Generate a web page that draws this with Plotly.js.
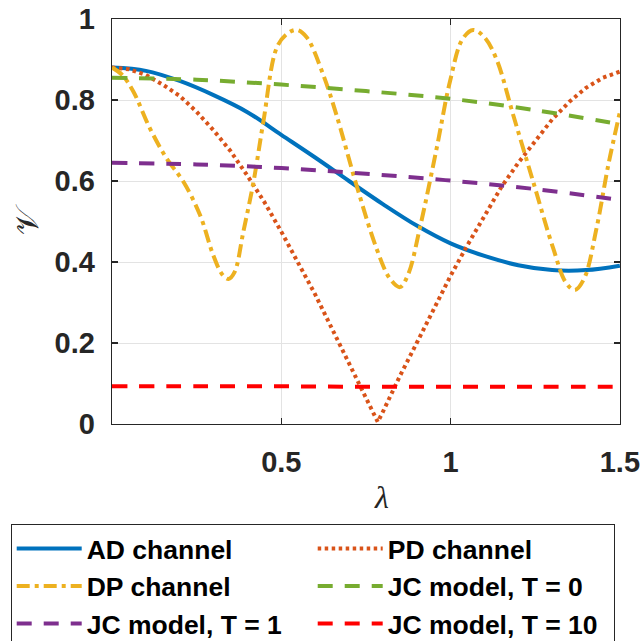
<!DOCTYPE html>
<html>
<head>
<meta charset="utf-8">
<script src="https://cdn.plot.ly/plotly-3.0.1.min.js"></script>
<style>html,body{margin:0;padding:0;background:#fff;}#chart{width:640px;height:641px;}</style>
</head>
<body>
<div id="chart"></div>
<script>
// ---- data ----
const seriesNames = ["AD channel", "PD channel", "DP channel", "JC model, T = 0", "JC model, T = 1", "JC model, T = 10"];

const adX = [0, 0.1, 0.2, 0.3, 0.4, 0.5, 0.6, 0.7, 0.8, 0.9, 1.0, 1.1, 1.2, 1.3, 1.4, 1.5];
const adY = [0.880, 0.872, 0.847, 0.812, 0.770, 0.714, 0.658, 0.600, 0.543, 0.490, 0.446, 0.415, 0.392, 0.380, 0.380, 0.391];

const pdX = [0, 0.05, 0.1, 0.15, 0.2, 0.25, 0.3, 0.35, 0.4, 0.45, 0.5, 0.55, 0.6, 0.65, 0.7, 0.75, 0.785,
             0.8, 0.85, 0.9, 0.95, 1.0, 1.05, 1.1, 1.15, 1.2, 1.25, 1.3, 1.35, 1.4, 1.45, 1.5];
const pdY = [0.880, 0.876, 0.862, 0.838, 0.810, 0.771, 0.725, 0.674, 0.613, 0.548, 0.475, 0.400, 0.320, 0.235, 0.150, 0.062, 0.005,
             0.030, 0.118, 0.200, 0.285, 0.366, 0.442, 0.515, 0.585, 0.645, 0.700, 0.752, 0.795, 0.830, 0.855, 0.870];

const dpX = [0, 0.03, 0.063, 0.112, 0.161, 0.211, 0.26, 0.299, 0.325, 0.344, 0.362, 0.388, 0.418, 0.447, 0.486, 0.515,
             0.545, 0.575, 0.624, 0.663, 0.722, 0.781, 0.82, 0.85, 0.875, 0.909, 0.959, 0.998, 1.035, 1.067, 1.1,
             1.136, 1.185, 1.244, 1.303, 1.34, 1.367, 1.395, 1.431, 1.466, 1.5];
const dpY = [0.880, 0.862, 0.821, 0.730, 0.656, 0.598, 0.516, 0.417, 0.370, 0.358, 0.375, 0.475, 0.598, 0.746, 0.928, 0.962,
             0.973, 0.955, 0.862, 0.763, 0.590, 0.434, 0.360, 0.338, 0.370, 0.483, 0.681, 0.845, 0.950, 0.973, 0.955,
             0.900, 0.763, 0.598, 0.434, 0.350, 0.331, 0.360, 0.483, 0.640, 0.770];

const jcX = [0, 0.25, 0.5, 0.75, 1.0, 1.25, 1.5];
const jcT0Y = [0.855, 0.850, 0.838, 0.822, 0.803, 0.775, 0.740];
const jcT1Y = [0.645, 0.641, 0.632, 0.618, 0.601, 0.580, 0.553];
const jcT10Y = [0.093, 0.093, 0.093, 0.092, 0.092, 0.092, 0.092];

const xTicks = [0.5, 1, 1.5];
const xTickText = ["0.5", "1", "1.5"];
const yTicks = [0, 0.2, 0.4, 0.6, 0.8, 1];
const yTickText = ["0", "0.2", "0.4", "0.6", "0.8", "1"];

// ---- traces ----
const LW = 4;
const traces = [
  {x: adX, y: adY, name: seriesNames[0], mode: "lines", line: {color: "#0072BD", width: LW, shape: "spline"}},
  {x: pdX, y: pdY, name: seriesNames[1], mode: "lines", line: {color: "#D95319", width: LW, dash: "3.5px,3.5px", shape: "linear"}},
  {x: dpX, y: dpY, name: seriesNames[2], mode: "lines", line: {color: "#EDB120", width: LW, dash: "13px,5px,4px,5px", shape: "spline"}},
  {x: jcX, y: jcT0Y, name: seriesNames[3], mode: "lines", line: {color: "#77AC30", width: LW, dash: "15px,12px", shape: "spline"}},
  {x: jcX, y: jcT1Y, name: seriesNames[4], mode: "lines", line: {color: "#7E2F8E", width: LW, dash: "15px,12px", shape: "spline"}},
  {x: jcX, y: jcT10Y, name: seriesNames[5], mode: "lines", line: {color: "#FF0000", width: LW, dash: "15px,12px", shape: "spline"}}
];

const tickFont = {family: "Liberation Sans, Arial, sans-serif", size: 29, color: "#262626", weight: "bold"};

const layout = {
  width: 640, height: 641,
  margin: {l: 112, r: 20, t: 19, b: 217, pad: 0, autoexpand: false},
  paper_bgcolor: "#ffffff", plot_bgcolor: "#ffffff",
  showlegend: true,
  xaxis: {
    range: [0, 1.5004], tickvals: xTicks, ticktext: xTickText,
    ticks: "inside", ticklen: 6, tickwidth: 1.2, tickcolor: "#262626",
    showline: true, mirror: "ticks", linecolor: "#262626", linewidth: 1.3,
    showgrid: true, gridcolor: "#e3e3e3", gridwidth: 1, zeroline: false,
    tickfont: tickFont, ticklabelstandoff: 12, ticklabeloverflow: "allow", automargin: false,
    title: {text: "&nbsp;&nbsp;&nbsp;&nbsp;<i>λ</i>", font: {family: "Liberation Serif, DejaVu Serif, serif", size: 32, color: "#262626"}, standoff: 8}
  },
  yaxis: {
    range: [0, 1], tickvals: yTicks, ticktext: yTickText,
    ticks: "inside", ticklen: 6, tickwidth: 1.2, tickcolor: "#262626",
    showline: true, mirror: "ticks", linecolor: "#262626", linewidth: 1.3,
    showgrid: true, gridcolor: "#e3e3e3", gridwidth: 1, zeroline: false,
    tickfont: tickFont, ticklabelstandoff: 10, automargin: false,
    title: {text: "𝒱", font: {family: "DejaVu Serif, DejaVu Sans, serif", size: 32, color: "#262626"}, standoff: 6}
  },
  legend: {
    orientation: "h", x: -0.1994, y: -0.2465, xanchor: "left", yanchor: "top",
    bgcolor: "#ffffff", bordercolor: "#262626", borderwidth: 1,
    font: {family: "Liberation Sans, Arial, sans-serif", size: 26.5, color: "#000000", weight: "bold"},
    entrywidth: 221, entrywidthmode: "pixels", itemwidth: 65, tracegroupgap: 0,
    traceorder: "normal"
  }
};

Plotly.newPlot("chart", traces, layout, {displayModeBar: false, staticPlot: true});
</script>
</body>
</html>
